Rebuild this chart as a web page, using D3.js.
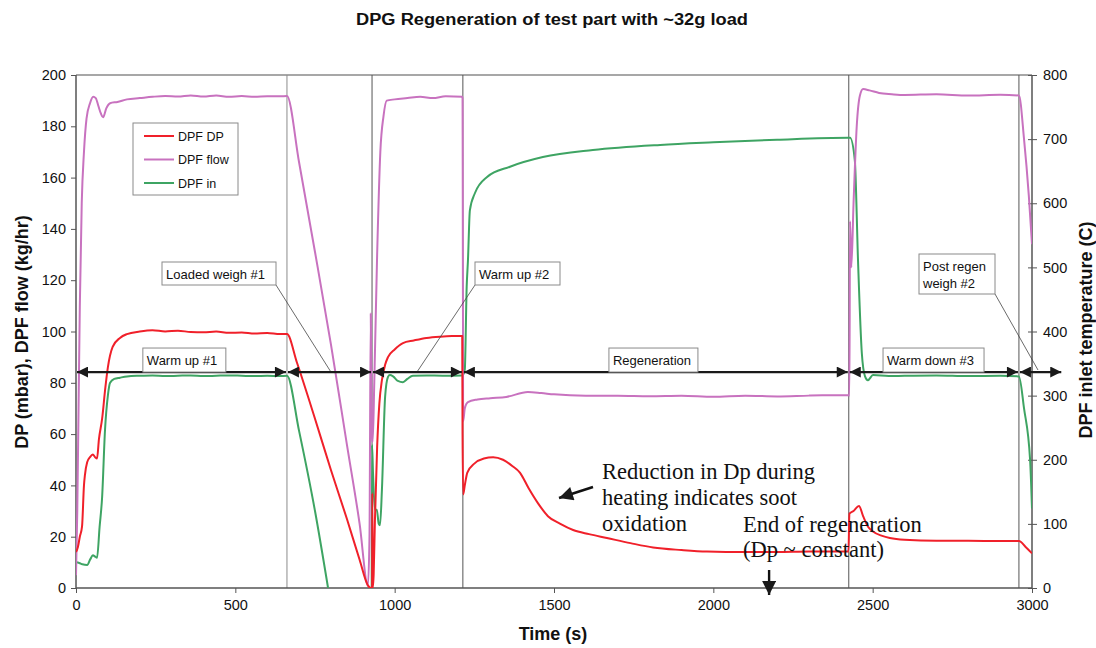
<!DOCTYPE html>
<html>
<head>
<meta charset="utf-8">
<script src="https://cdn.jsdelivr.net/npm/d3@7"></script>
<style>
  html, body { margin: 0; padding: 0; background: #fff; }
  svg { display: block; font-family: "Liberation Sans", Arial, sans-serif; }
</style>
</head>
<body>
<svg id="chart" width="1096" height="648"></svg>
<script>
// ---------------- DATA ----------------
const chartTitle = "DPG Regeneration of test part with ~32g load";
const xTicks = [0, 500, 1000, 1500, 2000, 2500, 3000];
const yLeftTicks = [0, 20, 40, 60, 80, 100, 120, 140, 160, 180, 200];
const yRightTicks = [0, 100, 200, 300, 400, 500, 600, 700, 800];
const seriesNames = ["DPF DP", "DPF flow", "DPF in"];

// DPF DP (mbar) - left axis, [time s, value]
const dpfDP = [
  [0,14],[6,16],[12,20],[19,24],[25,40],[28,44],[35,49],[44,51],[53,52],[60,51],[66,50.5],
  [72,58],[82,66],[92,78],[100,86],[115,94],[138,97.5],[160,99],[200,100],[240,100.5],
  [280,100],[320,100.3],[360,99.8],[400,99.7],[440,100],[480,99.5],[520,99.6],[560,99.2],
  [600,99.4],[640,99],[662,99],[693,88],[750,66],[800,46],[850,27],[890,11],[916,1],
  [925,0],[929,0],[930,37],[931,0],[934,5],[938,26],[945,55],[952,72],[960,81],[970,87],
  [979,90],[1000,93],[1026,95.5],[1060,96.5],[1100,97.5],[1142,98],[1180,98.2],[1212,98.2],
  [1213,60],[1215,36.5],[1220,40],[1228,45],[1250,48.5],[1280,50.5],[1309,51],[1340,50],
  [1370,47.5],[1393,45],[1420,39],[1450,33],[1481,28],[1520,25],[1560,22.6],[1610,21],
  [1666,19.5],[1740,17.5],[1811,15.8],[1900,14.8],[1980,14.2],[2100,14],[2200,14],
  [2300,14.2],[2424,14.2],[2427,29],[2440,30],[2457,32],[2470,28],[2485,24],[2501,22],
  [2530,20.3],[2554,19.5],[2600,18.8],[2700,18.4],[2800,18.4],[2900,18.3],[2959,18.3],
  [2980,16],[3000,13.5]
];

// DPF flow (kg/hr) - left axis
const dpfFlow = [
  [0,5],[4,30],[8,70],[12,110],[18,150],[25,170],[33,183],[44,189],[54,191.5],[62,191],
  [70,188],[78,185],[85,183.5],[95,187],[107,189],[130,189.5],[160,190.5],[200,191],
  [240,191.5],[280,191.8],[320,191.6],[360,192],[400,191.6],[440,192],[480,191.5],
  [520,191.8],[560,191.5],[600,191.7],[640,191.7],[662,191.8],[700,166],[750,131],[800,95],
  [850,56],[890,25],[916,1],[921,20],[925,107],[928,60],[931,57],[936,80],[945,130],
  [955,170],[965,184],[975,190],[1000,190.5],[1040,191],[1080,191.5],[1120,191],
  [1160,191.7],[1212,191.5],[1213,191],[1215,65],[1220,70],[1230,72.5],[1260,73.5],
  [1300,74],[1350,74.5],[1418,76.4],[1460,76],[1500,75.5],[1600,75],[1700,75],[1800,74.8],
  [1900,75],[2000,74.6],[2100,75],[2200,74.7],[2300,75],[2424,75.2],[2427,75],[2429,143],
  [2433,125],[2440,150],[2450,180],[2460,192],[2470,194.5],[2490,194],[2520,193],
  [2560,192.5],[2600,192.2],[2700,192.5],[2800,192],[2900,192.3],[2959,192],[2975,175],
  [2990,153],[3000,134]
];

// DPF in (C) - right axis (null = line leaves the chart below 0)
const dpfIn = [
  [0,40],[10,39],[20,37],[35,36],[45,45],[53,51],[60,49],[66,47],[74,95],[82,142],[91,246],
  [100,300],[107,320],[120,326],[138,328],[160,330],[200,331],[240,331.5],[280,330.5],
  [320,331],[360,331.5],[400,330.5],[440,331],[480,331.5],[520,331],[560,330.5],[600,331],
  [640,330.5],[662,331],[700,245],[750,120],[791,0],[792,null],[927,null],[928,0],[929,223],
  [932,180],[938,122],[944,122],[950,100],[954,98],[960,153],[970,298],[979,329],[985,332],
  [995,330],[1010,323],[1026,321],[1040,326],[1057,331],[1100,331.5],[1150,331],[1212,331.5],
  [1220,340],[1226,470],[1230,511],[1236,589],[1252,616],[1290,641],[1362,657],[1465,672],
  [1622,683],[1833,691],[2000,695],[2200,699],[2424,702],[2429,702],[2444,667],[2454,511],
  [2466,366],[2476,330],[2485,324],[2501,332],[2550,330.5],[2600,331],[2700,331.5],
  [2800,330.5],[2900,331],[2959,330],[2975,280],[2994,200],[3000,124]
];

// Phase markers (s) and phase arrows
const phaseMarkers = [662, 929, 1214, 2425, 2959];
const phaseArrows = [[0,662],[662,929],[929,1214],[1214,2425],[2425,2959],[2959,3095]];
const phaseArrowLevel = 84.2;
const phaseLabels = [
  { text: "Warm up #1", t: 340 },
  { text: "Regeneration", t: 1812 },
  { text: "Warm down #3", t: 2691 }
];

// ---------------- CHART ----------------
const svg = d3.select("#chart");
const m = { left: 76, right: 1032, top: 75, bottom: 588 };

const x = d3.scaleLinear().domain([0, 3000]).range([m.left, m.right]);
const yL = d3.scaleLinear().domain([0, 200]).range([m.bottom, m.top]);
const yR = d3.scaleLinear().domain([0, 800]).range([m.bottom, m.top]);

const colors = { dp: "#f0202a", flow: "#c872bf", tin: "#3ea463" };
const sans = "'Liberation Sans', Arial, sans-serif";
const serif = "'Liberation Serif', 'Times New Roman', serif";

// defs: clip + arrowheads
const defs = svg.append("defs");
defs.append("clipPath").attr("id", "plotClip").append("rect")
  .attr("x", m.left).attr("y", m.top - 2).attr("width", m.right - m.left).attr("height", m.bottom - m.top + 2);
function marker(id, w, h) {
  defs.append("marker").attr("id", id)
    .attr("viewBox", "0 0 10 10").attr("refX", 10).attr("refY", 5)
    .attr("markerWidth", w).attr("markerHeight", h).attr("markerUnits", "userSpaceOnUse")
    .attr("orient", "auto-start-reverse")
    .append("path").attr("d", "M0,0 L10,5 L0,10 Z").attr("fill", "#1a1a1a");
}
marker("arrH", 13, 11);
marker("arrBig", 15, 14);

// Title
svg.append("text").attr("x", 552).attr("y", 25).attr("text-anchor", "middle")
  .style("font-family", sans).attr("font-size", 16).attr("font-weight", "bold").attr("fill", "#111")
  .attr("textLength", 392).attr("lengthAdjust", "spacingAndGlyphs")
  .text(chartTitle);

// Frame top line
svg.append("line").attr("x1", m.left).attr("x2", m.right).attr("y1", m.top).attr("y2", m.top)
  .attr("stroke", "#8a8a8a").attr("stroke-width", 1.5);

// Vertical phase markers
svg.append("g").selectAll("line").data(phaseMarkers).join("line")
  .attr("x1", d => x(d)).attr("x2", d => x(d))
  .attr("y1", m.top).attr("y2", m.bottom)
  .attr("stroke", (d, i) => i === 0 ? "#8c8c8c" : "#555").attr("stroke-width", 1);

// Axes
const axisColor = "#555";
const gB = svg.append("g").attr("transform", `translate(0,${m.bottom})`)
  .call(d3.axisBottom(x).tickValues(xTicks).tickSize(5).tickPadding(7).tickFormat(d3.format("d")));
const gL = svg.append("g").attr("transform", `translate(${m.left},0)`)
  .call(d3.axisLeft(yL).tickValues(yLeftTicks).tickSize(5).tickPadding(5));
const gR = svg.append("g").attr("transform", `translate(${m.right},0)`)
  .call(d3.axisRight(yR).tickValues(yRightTicks).tickSize(5).tickPadding(6));
gR.selectAll(".tick line").attr("x1", -4);
[gB, gL, gR].forEach(g => {
  g.select(".domain").attr("stroke", axisColor).attr("stroke-width", 1.5);
  g.selectAll(".tick line").attr("stroke", axisColor);
  g.selectAll(".tick text").attr("font-size", 14.5).attr("fill", "#111").attr("font-family", sans);
});
gB.select(".domain").attr("d", `M${m.left},0H${m.right}`);
gL.select(".domain").attr("d", `M0,${m.bottom}V${m.top}`);
gR.select(".domain").attr("d", `M0,${m.bottom}V${m.top}`);

// Axis titles
svg.append("text").attr("x", 553).attr("y", 640).attr("text-anchor", "middle")
  .attr("font-size", 18).attr("font-weight", "bold").attr("fill", "#111").text("Time (s)");
svg.append("text").attr("transform", "translate(28,332) rotate(-90)").attr("text-anchor", "middle")
  .attr("font-size", 18).attr("font-weight", "bold").attr("fill", "#111").text("DP (mbar), DPF flow (kg/hr)");
svg.append("text").attr("transform", "translate(1092,330) rotate(-90)").attr("text-anchor", "middle")
  .attr("font-size", 18).attr("font-weight", "bold").attr("fill", "#111").text("DPF inlet temperature (C)");

// Lines
const plot = svg.append("g").attr("clip-path", "url(#plotClip)");
const lineL = d3.line().defined(d => d[1] != null).curve(d3.curveMonotoneX).x(d => x(d[0])).y(d => yL(d[1]));
const lineR = d3.line().defined(d => d[1] != null).curve(d3.curveMonotoneX).x(d => x(d[0])).y(d => yR(d[1]));
plot.append("path").datum(dpfIn).attr("d", lineR).attr("fill", "none")
  .attr("stroke", colors.tin).attr("stroke-width", 2).attr("stroke-linejoin", "round");
plot.append("path").datum(dpfFlow).attr("d", lineL).attr("fill", "none")
  .attr("stroke", colors.flow).attr("stroke-width", 2).attr("stroke-linejoin", "round");
plot.append("path").datum(dpfDP).attr("d", lineL).attr("fill", "none")
  .attr("stroke", colors.dp).attr("stroke-width", 2).attr("stroke-linejoin", "round");

// Leader lines for callouts
const leader = (x1, y1, x2, y2) => svg.append("line").attr("x1", x1).attr("y1", y1)
  .attr("x2", x2).attr("y2", y2).attr("stroke", "#444").attr("stroke-width", 0.8);
leader(276, 285, x(800), yL(phaseArrowLevel));
leader(475, 285, x(1070), yL(phaseArrowLevel));
leader(995, 294, 1038, yL(phaseArrowLevel) - 2);

// Phase arrows
const ay = yL(phaseArrowLevel);
svg.append("g").selectAll("line").data(phaseArrows).join("line")
  .attr("x1", d => x(d[0]) + 1).attr("x2", d => x(d[1]) - 1)
  .attr("y1", ay).attr("y2", ay)
  .attr("stroke", "#1a1a1a").attr("stroke-width", 2.2)
  .attr("marker-start", "url(#arrH)").attr("marker-end", "url(#arrH)");

// Label boxes
function box(cx, yTop, w, h, lines, fs) {
  const g = svg.append("g");
  g.append("rect").attr("x", cx - w / 2).attr("y", yTop).attr("width", w).attr("height", h)
    .attr("fill", "#fff").attr("stroke", "#8a8a8a").attr("stroke-width", 1);
  lines.forEach((t, i) => {
    g.append("text").attr("x", cx - w / 2 + 4).attr("y", yTop + 17 + i * 17)
      .attr("font-size", fs).attr("fill", "#111").text(t);
  });
  return g;
}
const labelW = { "Warm up #1": 83, "Regeneration": 89, "Warm down #3": 101 };
phaseLabels.forEach(p => box(x(p.t), ay - 24, labelW[p.text], 24, [p.text], 13));
box(219, 262, 114, 23, ["Loaded weigh #1"], 13);
box(517.5, 262, 85, 23, ["Warm up #2"], 13);
box(957, 254, 76, 40, ["Post regen", "weigh #2"], 13);

// Legend
const lg = svg.append("g");
lg.append("rect").attr("x", 133).attr("y", 123).attr("width", 105).attr("height", 72)
  .attr("fill", "#fff").attr("stroke", "#8a8a8a").attr("stroke-width", 1);
[colors.dp, colors.flow, colors.tin].forEach((c, i) => {
  const yy = 136 + i * 23.5;
  lg.append("line").attr("x1", 144).attr("x2", 174).attr("y1", yy).attr("y2", yy)
    .attr("stroke", c).attr("stroke-width", 2);
  lg.append("text").attr("x", 178).attr("y", yy + 4.5).attr("font-size", 12.5)
    .attr("fill", "#111").text(seriesNames[i]);
});

// Serif annotations
["Reduction in Dp during", "heating indicates soot", "oxidation"].forEach((t, i) => {
  svg.append("text").attr("x", 602).attr("y", 479 + i * 26).style("font-family", serif)
    .attr("font-size", 22.5).attr("fill", "#111").text(t);
});
["End of regeneration", "(Dp ~ constant)"].forEach((t, i) => {
  svg.append("text").attr("x", 743).attr("y", 532 + i * 25).style("font-family", serif)
    .attr("font-size", 22.5).attr("fill", "#111").text(t);
});
// pointer arrows
svg.append("line").attr("x1", 593).attr("y1", 487).attr("x2", 559).attr("y2", 498)
  .attr("stroke", "#111").attr("stroke-width", 2.6).attr("marker-end", "url(#arrBig)");
svg.append("line").attr("x1", x(2175)).attr("y1", 570).attr("x2", x(2175)).attr("y2", 595)
  .attr("stroke", "#111").attr("stroke-width", 2.4).attr("marker-end", "url(#arrBig)");
</script>
</body>
</html>
